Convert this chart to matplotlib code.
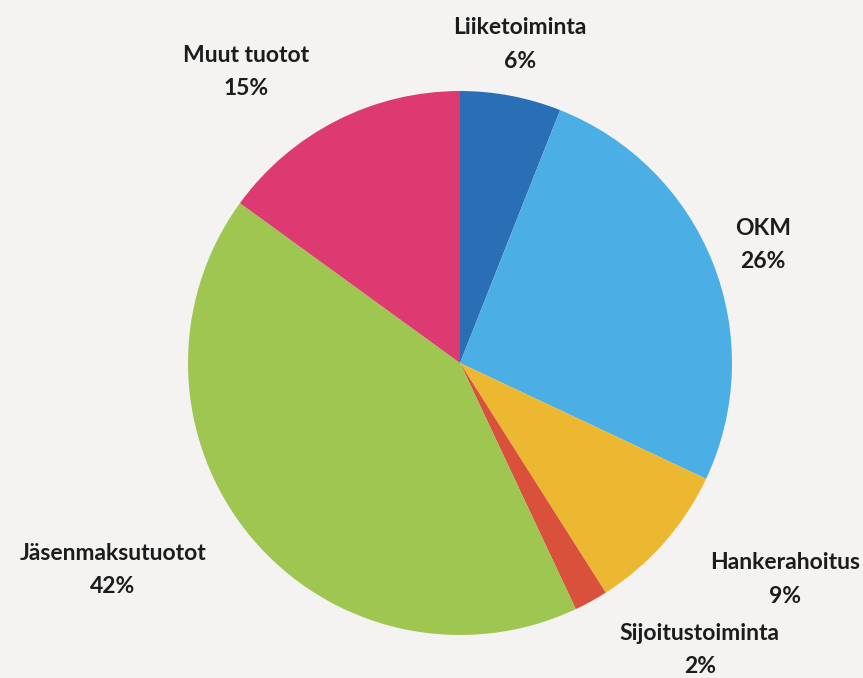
import numpy as np
import matplotlib.pyplot as plt

labels = ['Liiketoiminta', 'OKM', 'Hankerahoitus', 'Sijoitustoiminta',
          'Jäsenmaksutuotot', 'Muut tuotot']
shares = [6, 26, 9, 2, 42, 15]
colors = ['#2a6fb6', '#4bafe6', '#ecb832', '#d9513b', '#9fc651', '#dc3a71']

# label centres, in units of pie radius
lab_x = [0.22, 1.114, 1.195, 0.882, -1.276, -0.787]
lab_y = [1.17, 0.434, -0.797, -1.055, -0.761, 1.07]

fig = plt.figure(figsize=(8.63, 6.78), dpi=100)
fig.patch.set_facecolor('#f4f3f1')
ax = fig.add_axes([0, 0, 1, 1])
ax.set_facecolor('#f4f3f1')

ax.pie(shares, colors=colors, startangle=90, counterclock=False,
       radius=1.0, wedgeprops=dict(linewidth=0))

for name, v, x, y in zip(labels, shares, lab_x, lab_y):
    ax.text(x, y, f'{name}\n{v}%', ha='center', va='center',
            fontsize=16.5, fontweight='bold', family='Lato',
            color='#1c1c1c', linespacing=1.75)

ax.set_xlim(-460 / 272, 403 / 272)
ax.set_ylim(-315 / 272, 363 / 272)
ax.set_aspect('equal')
ax.axis('off')

fig.savefig('out.png', dpi=100, facecolor=fig.get_facecolor())
